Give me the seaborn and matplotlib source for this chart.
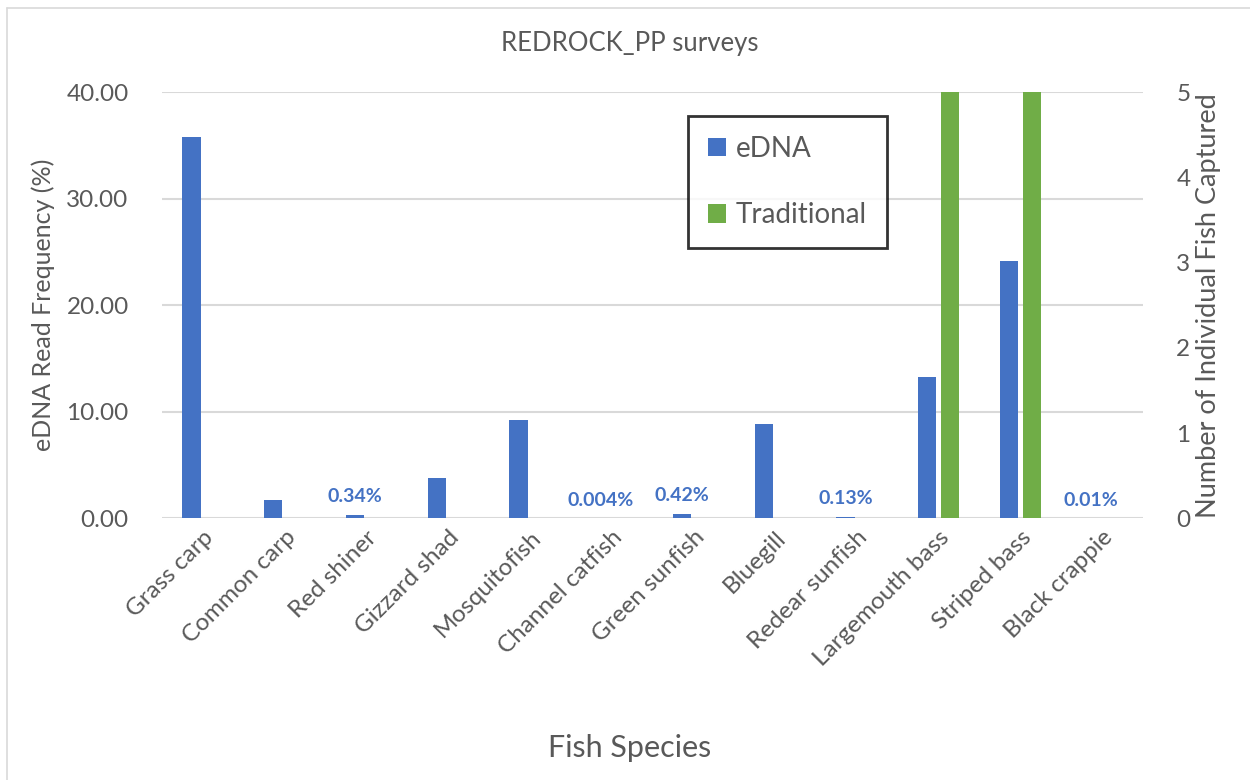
import matplotlib
matplotlib.use("Agg")
import matplotlib.pyplot as plt
from matplotlib.lines import Line2D
from matplotlib.patches import Patch
import numpy as np
import pandas as pd
import seaborn as sns

# Survey results per species
species = ["Grass carp", "Common carp", "Red shiner", "Gizzard shad", "Mosquitofish",
           "Channel catfish", "Green sunfish", "Bluegill", "Redear sunfish",
           "Largemouth bass", "Striped bass", "Black crappie"]
edna_pct = [35.74, 1.72, 0.34, 3.81, 9.23, 0.004, 0.42, 8.85, 0.13, 13.30, 24.13, 0.01]
traditional_n = [0, 0, 0, 0, 0, 0, 0, 0, 0, 5, 5, 0]
# species whose tiny eDNA share is written above the bar
labelled = {"Red shiner": "0.34%", "Channel catfish": "0.004%", "Green sunfish": "0.42%",
            "Redear sunfish": "0.13%", "Black crappie": "0.01%"}

left_ticks = [0, 10, 20, 30, 40]
right_ticks = [0, 1, 2, 3, 4, 5]

BLUE = "#4472C4"
GREEN = "#70AD47"
TEXT = "#595959"
GRID = "#D9D9D9"

sns.set_theme(style="white")
plt.rcParams["font.family"] = ["Lato", "DejaVu Sans"]

series_order = ["eDNA", "Traditional"]
df_left = pd.DataFrame({"species": species, "value": edna_pct, "series": "eDNA"})
df_right = pd.DataFrame({"species": species, "value": traditional_n, "series": "Traditional"})

fig = plt.figure(figsize=(12.5, 7.8), dpi=100)
ax = fig.add_axes([0.1296, 0.3355, 0.7848, 0.5465])
ax2 = ax.twinx()

common = dict(x="species", y="value", hue="series", hue_order=series_order,
              order=species, dodge=True, width=0.56, gap=0.2, saturation=1,
              palette={"eDNA": BLUE, "Traditional": GREEN},
              linewidth=0, legend=False, errorbar=None)
sns.barplot(data=df_left, ax=ax, **common)
sns.barplot(data=df_right[df_right["value"] > 0], ax=ax2, **common)

ax.set_ylim(0, 40)
ax2.set_ylim(0, 5)
ax.set_xlim(-0.5, len(species) - 0.5)
ax.set_yticks(left_ticks)
ax.set_yticklabels([f"{v:.2f}" for v in left_ticks])
ax2.set_yticks(right_ticks)
ax2.set_yticklabels([str(v) for v in right_ticks])

ax.yaxis.grid(True, color=GRID, linewidth=1.5)
ax.set_axisbelow(True)
for a in (ax, ax2):
    for s in a.spines.values():
        s.set_visible(False)
    a.tick_params(axis="both", length=0, colors=TEXT, labelsize=17.5)
ax.tick_params(axis="y", pad=24)
ax2.tick_params(axis="y", pad=24)
ax.tick_params(axis="x", pad=6)

ax.set_xticks(range(len(species)))
ax.set_xticklabels(species, rotation=45, ha="right", rotation_mode="anchor", color=TEXT)

ax.set_xlabel("")
ax.set_ylabel("eDNA Read Frequency (%)", fontsize=18, color=TEXT, labelpad=8)
ax2.set_ylabel("Number of Individual Fish Captured", fontsize=19.5, color=TEXT, labelpad=4)
fig.text(630 / 1250, 1 - 748 / 780, "Fish Species", ha="center", va="center",
         fontsize=22, color=TEXT)
fig.text(630 / 1250, 1 - 44 / 780, "REDROCK_PP surveys", ha="center", va="center",
         fontsize=18.5, color=TEXT)

# value labels for the barely visible eDNA bars
offset = -0.14
for i, (name, val) in enumerate(zip(species, edna_pct)):
    if name in labelled:
        ax.annotate(labelled[name], xy=(i + offset, val), xytext=(0, 9),
                    textcoords="offset points", ha="center", va="baseline",
                    fontsize=14, fontweight="bold", color=BLUE)

handles = [Patch(facecolor=BLUE, edgecolor="none"), Patch(facecolor=GREEN, edgecolor="none")]
leg = ax2.legend(handles, series_order, loc="upper left",
                 bbox_to_anchor=(0.5504, 0.8513), bbox_transform=fig.transFigure,
                 fontsize=20, labelcolor=TEXT, frameon=True, fancybox=False,
                 handlelength=0.65, handleheight=0.65, handletextpad=0.35,
                 labelspacing=1.45, borderpad=0.72, borderaxespad=0)
leg.get_frame().set_edgecolor("black")
leg.get_frame().set_linewidth(2)

# outer chart border
fig.add_artist(Line2D([7 / 1250, 1], [1 - 8 / 780] * 2, transform=fig.transFigure,
                      color=GRID, linewidth=1.2))
fig.add_artist(Line2D([7 / 1250] * 2, [0, 1 - 8 / 780], transform=fig.transFigure,
                      color=GRID, linewidth=1.2))

fig.savefig("out.png", dpi=100)
